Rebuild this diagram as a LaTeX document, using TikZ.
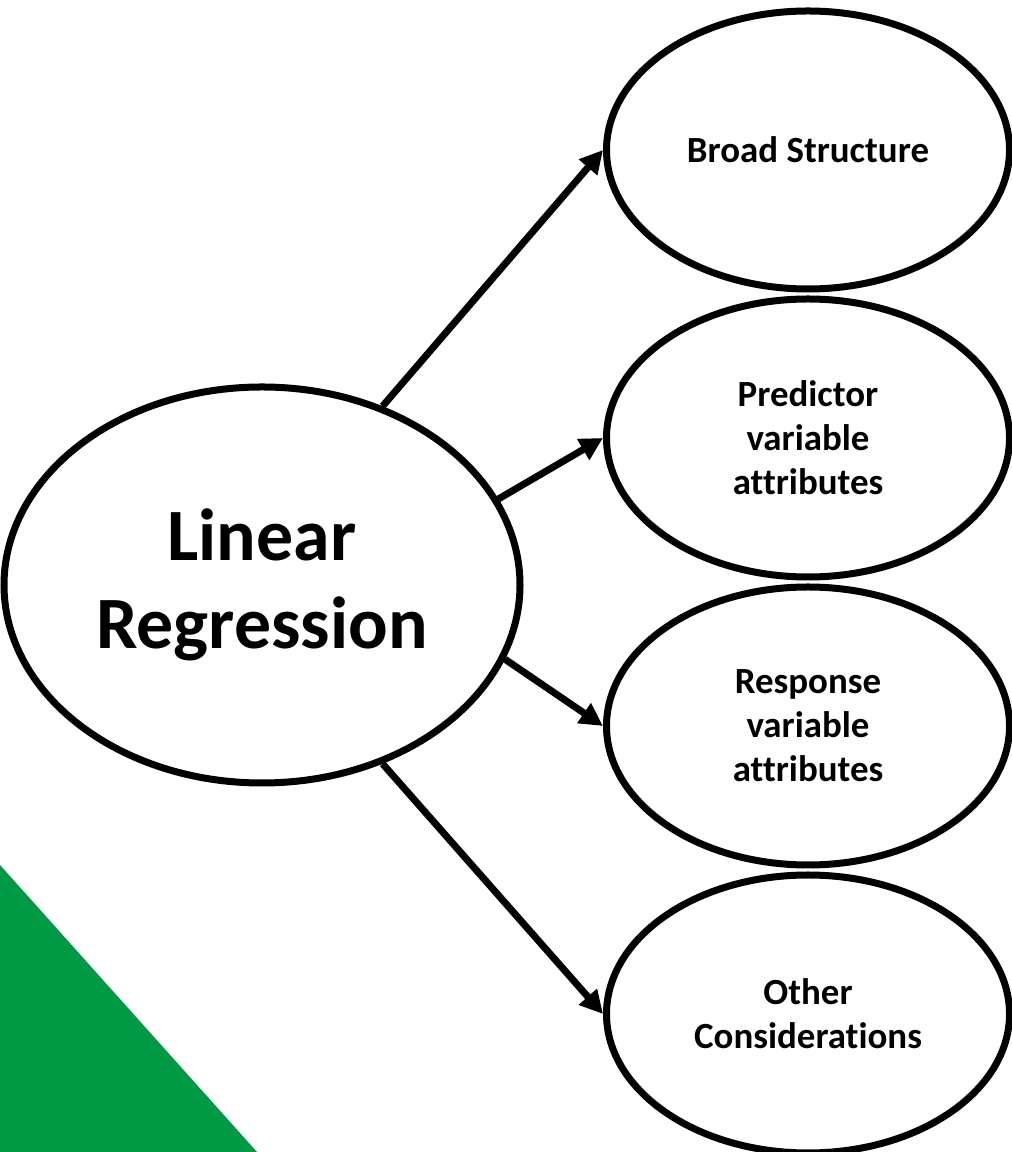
\documentclass[tikz,border=0pt]{standalone}
\usepackage{fontspec}
\setmainfont{Carlito}[Ligatures=NoCommon]
\usepackage{tikz}
\usetikzlibrary{arrows.meta,positioning,shapes}
\definecolor{leafgreen}{RGB}{0,154,68}

\begin{document}
\begin{tikzpicture}[
		bubble/.style={ellipse,draw,line width=0.14cm,fill=white,inner sep=0pt,align=center,font=\bfseries},
		big/.style={bubble,minimum width=10.32cm,minimum height=7.92cm,font=\bfseries\fontsize{42}{50}\selectfont},
		small/.style={bubble,minimum width=8.06cm,minimum height=5.56cm,font=\bfseries\fontsize{21}{25}\selectfont},
		link/.style={line width=0.14cm,-{Triangle[length=0.46cm,width=0.46cm]}}
	]
		\useasboundingbox (0,0) rectangle (20.22,23.04);
		\fill[leafgreen] (0,0) -- (0,5.74) -- (5.14,0) -- cycle;
		\begin{scope}
			\node(1) [big] at (5.24,11.34) {Linear\\Regression};
			\node(2) [small] at (16.16,20.04) {Broad Structure};
			\node(3) [small,below=0.06 of 2] {Predictor\\variable\\attributes};
			\node(4) [small,below=0.06 of 3] {Response\\variable\\attributes};
			\node(5) [small,below=0.06 of 4] {Other\\Considerations};
			\path[link]
				(1.56) edge (2.west)
				(1.20) edge (3.west)
				(1.343) edge (4.west)
				(1.304) edge (5.west);
		\end{scope}
	\end{tikzpicture}
\end{document}
